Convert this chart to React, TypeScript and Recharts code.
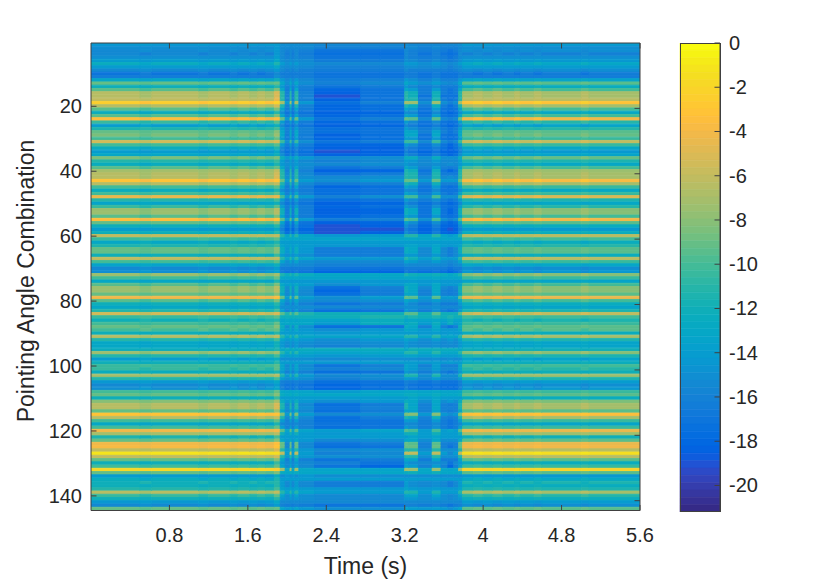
import { BarChart, Bar, Cell, XAxis, YAxis } from "recharts";

/* ── Data (dB) ────────────────────────────────────────────────── */
const rows = Array.from({ length: 144 }, (_, i) => i + 1);

const xTicks = [0.8, 1.6, 2.4, 3.2, 4, 4.8, 5.6];
const yTicks = [20, 40, 60, 80, 100, 120, 140];
const barTicks = [0, -2, -4, -6, -8, -10, -12, -14, -16, -18, -20];

const outer = [
  -14.5, -15, -15.5, -15.5, -15, -14, -12.5, -14, -15.5, -17, -16.5, -13,
  -9, -12, -9.5, -6.5, -6.5, -6, -2.5, -6.5, -9.5, -12.5, -9.5, -3.5,
  -10.5, -14, -11.5, -9, -8.5, -10, -5.5, -10, -12.5, -14, -13, -8.5,
  -11, -12.5, -9.5, -7, -6.5, -6.5, -3.3, -6.5, -10, -12.5, -10, -4.5,
  -11, -13.5, -10.5, -7.5, -7.5, -9.5, -3.5, -9, -12, -14, -12, -6,
  -10.5, -13, -11.5, -9, -9, -12, -6, -10, -13.5, -15.5, -15, -7.5,
  -10, -13, -9.5, -7.5, -7.5, -9, -4, -9.5, -12, -13, -11, -5.5,
  -10.5, -12, -10, -9, -10, -12, -6.5, -11, -13, -13, -12.5, -7.5,
  -11, -14, -12, -10.5, -10.5, -12.5, -7, -11, -14.5, -15.5, -15, -10,
  -9, -12, -8, -6.5, -6.5, -9, -3, -6.5, -10, -13, -10, -4,
  -7, -11.5, -9, -4, -3.8, -6, -1, -6, -9, -12, -10, -1.8,
  -9, -14, -12.5, -12, -12, -11, -6.5, -10.5, -12, -14.5, -15.5, -9,
];

const outerAlt = [
  -14, -15, -15, -16, -15, -14.5, -13, -14, -15, -16.5, -16.5, -13.5,
  -9.5, -12.5, -10, -7, -7, -6.5, -3, -7, -10, -13, -10, -4,
  -11, -13.5, -11, -9.5, -9, -10.5, -6, -10.5, -13, -14.5, -13.5, -9,
  -11.5, -13, -10, -7.5, -7, -7, -3.8, -7, -10.5, -13, -10.5, -5,
  -11.5, -13, -11, -8, -8, -10, -4, -9.5, -12.5, -14.5, -12.5, -6.5,
  -10, -12.5, -11, -9.5, -9.5, -12.5, -6.5, -10.5, -13, -15, -14.5, -8,
  -10.5, -13.5, -10, -8, -8, -9.5, -4.5, -10, -12.5, -13.5, -11.5, -6,
  -10, -11.5, -10.5, -9.5, -9.5, -12.5, -7, -11.5, -13.5, -13.5, -12, -8,
  -11.5, -13.5, -12.5, -10, -11, -12, -7.5, -11.5, -14, -15, -14.5, -10.5,
  -9.5, -12.5, -8.5, -7, -7, -9.5, -3.5, -7, -10.5, -13.5, -10.5, -4.5,
  -7.5, -12, -9.5, -4.5, -4.3, -6.5, -1.5, -6.5, -9.5, -12.5, -10.5, -2.3,
  -9.5, -14.5, -13, -11.5, -12.5, -11.5, -7, -11, -12.5, -14, -15, -9.5,
];

const edge = [
  -14, -14.5, -14.5, -14.5, -14, -13, -11.5, -13, -14.5, -15.5, -15, -12,
  -9, -11, -8.5, -5, -5, -4.5, -2.3, -5.5, -8.5, -11, -8.5, -3.5,
  -9.5, -12, -10, -8, -7.5, -9, -5.5, -9.5, -11.5, -13, -12, -8.5,
  -10.5, -11.5, -9, -6, -5.5, -5, -3.2, -6, -9.5, -11.5, -9.5, -4.5,
  -10, -12, -9.5, -6.5, -6.5, -8.5, -3, -8, -11, -13, -11, -6,
  -9.5, -11.5, -10, -8, -8, -10.5, -6, -9.5, -12, -14, -13.5, -7,
  -9, -11.5, -8.5, -6.5, -6.5, -8, -3.5, -8.5, -11, -12, -10, -5,
  -9.5, -11, -9, -8, -9, -11, -6, -10, -12, -12, -11.5, -7.5,
  -10, -12.5, -11, -9.5, -9.5, -11.5, -6.5, -10, -13, -14, -13.5, -9,
  -8, -10.5, -7, -5, -5, -7.5, -3, -6, -9, -11.5, -9, -4,
  -6.5, -10, -8, -3.5, -3, -5, -1.5, -5.5, -8, -10.5, -9, -2.5,
  -8.5, -12.5, -11.5, -11, -11, -10, -6, -9.5, -11, -13, -14, -9,
];

const fade = [
  -15, -15.5, -15.5, -15.5, -15.5, -15, -14, -15, -15.5, -16.5, -16, -14.5,
  -13, -14.5, -13, -11, -11, -11, -7, -11.5, -13.5, -15, -13.5, -9,
  -14, -15.5, -14, -13, -13, -14, -10.5, -14, -15.5, -16, -15, -12.5,
  -14, -14.5, -13, -11.5, -11, -11, -9, -11.5, -13.5, -15, -13.5, -10,
  -14, -15.5, -14, -12, -12, -13.5, -9.5, -13.5, -15, -16, -15, -11,
  -13, -14, -13.5, -12.5, -12.5, -14, -11, -13.5, -15, -16.5, -16.5, -11.5,
  -13, -14.5, -13, -12, -12, -13, -9, -13, -14.5, -15, -14, -9.5,
  -12, -13.5, -13, -12.5, -13, -14, -11, -13.5, -14.5, -14.5, -13, -11,
  -13.5, -15, -14, -13.5, -13.5, -14.5, -11.5, -14, -16, -16.5, -16, -13,
  -12.5, -14, -12.5, -11.5, -11.5, -13, -8.5, -11.5, -14, -15.5, -14, -9.5,
  -12, -14, -13, -9, -9, -11, -6, -11, -13, -14.5, -13.5, -7,
  -12.5, -15, -14, -14, -14, -13.5, -11, -13.5, -14.5, -15.5, -16, -13.5,
];

const dip = [
  -15.5, -16, -17, -17.5, -17, -16.5, -15.5, -16, -16.5, -17, -17, -16.5,
  -16, -17, -18, -18.5, -19, -18.5, -17.5, -18, -18, -18.5, -18, -17,
  -18, -18.5, -17.5, -17.5, -18.5, -18, -17, -18, -18.5, -19, -18.5, -15.5,
  -16, -15.5, -17, -18.5, -17, -15.5, -15, -16.5, -18, -17.5, -17.5, -16,
  -17.5, -18.5, -18, -18.5, -18.5, -18, -16.5, -18.5, -19, -19, -19, -14.5,
  -13.5, -14, -14.5, -16.5, -16.5, -16.5, -14.5, -15.5, -16, -17, -18, -13,
  -13.5, -14.5, -15, -17.5, -18, -17.5, -15, -15.5, -17, -15.5, -17.5, -12,
  -12, -13.5, -14, -17.5, -15, -14.5, -13.5, -15, -15.5, -16, -12.5, -13.5,
  -14.5, -15.5, -14.5, -17, -16, -17.5, -15.5, -16, -17.5, -18, -18, -14,
  -13, -14, -15, -17.5, -17, -17.5, -15.5, -17.5, -17.5, -17, -17.5, -14,
  -14.5, -14, -15.5, -17, -17.5, -15.5, -16, -15, -17, -16, -17, -13.5,
  -13, -15, -14, -16.5, -16.5, -14.5, -14, -15.5, -15.5, -15.5, -17, -15,
];

const dipLate = [
  -15.5, -16, -17, -17.5, -17, -16.5, -15.5, -16, -16.5, -17, -17, -16,
  -15.5, -16.5, -17, -17, -17, -17, -16, -17.5, -17.5, -18, -17.5, -16,
  -17.5, -18, -17, -17, -17.5, -17.5, -16.5, -18, -18.5, -18.5, -18, -15,
  -15.5, -15, -16.5, -18, -16.5, -15, -14.5, -16, -17.5, -17, -17, -15,
  -17, -18, -17.5, -18, -18, -17.5, -16, -18, -18.5, -19, -18.5, -14,
  -13.5, -14, -14.5, -16.5, -16.5, -16.5, -14.5, -15.5, -16, -17, -18, -13,
  -13.5, -14.5, -14.5, -16, -16.5, -16.5, -14, -15, -16.5, -15.5, -17, -12,
  -11.5, -12.5, -12.5, -17, -14.5, -14, -13, -14.5, -15, -15.5, -12.5, -13,
  -14, -15, -14, -16, -15.5, -17, -15, -15.5, -17, -17.5, -17.5, -13.5,
  -13, -14, -14.5, -16.5, -16, -16.5, -15, -16.5, -17, -17, -17, -13.5,
  -14, -14, -15, -16.5, -17, -15, -15.5, -15, -16.5, -17, -18, -13.5,
  -13, -15, -14, -16.5, -16.5, -14.5, -14, -15.5, -15.5, -15.5, -17, -15,
];

const dipLeft = [
  -15, -15.5, -16, -16.5, -16, -15.5, -15, -15.5, -16, -16.5, -16.5, -15.5,
  -15, -16, -16.5, -16, -16, -16, -14.5, -16, -16.5, -17, -16.5, -14.5,
  -16.5, -17, -16, -16, -16.5, -16.5, -15, -16.5, -17, -17.5, -17, -14.5,
  -15.5, -15, -15.5, -16, -15.5, -15, -14, -15.5, -16.5, -16.5, -16, -14.5,
  -16.5, -17, -16.5, -16.5, -16.5, -16.5, -14.5, -17, -17.5, -18, -17.5, -13.5,
  -13.5, -14, -14, -14.5, -14.5, -15, -13.5, -15, -15.5, -16.5, -17, -12.5,
  -13.5, -14.5, -14, -15, -15.5, -15.5, -14, -15, -16, -15, -16, -11.5,
  -12, -13, -13, -15, -14.5, -14, -13, -14.5, -15, -15.5, -12.5, -13,
  -14, -15, -14, -15.5, -15, -16, -14.5, -15, -16.5, -17, -17, -13.5,
  -13, -14, -14.5, -15.5, -15, -15.5, -14, -15.5, -16, -16, -16, -13.5,
  -14, -14, -14.5, -15.5, -15.5, -14.5, -14, -14.5, -16, -15.5, -15.5, -13,
  -13, -14.5, -14, -15.5, -15.5, -14, -13.5, -15, -15, -15.5, -16.5, -14.5,
];

const notch = [
  -15.5, -16, -16.5, -17, -16.5, -16, -15, -15.5, -16, -17, -17, -16,
  -15, -16.5, -16.5, -16.5, -17, -16.5, -15, -16.5, -17, -17.5, -17, -15.5,
  -17, -17.5, -16.5, -16, -17, -17, -15.5, -17, -17.5, -18, -17.5, -15,
  -15.5, -15.5, -16, -17, -16.5, -15.5, -14.5, -16, -17, -17, -16.5, -15,
  -16.5, -17.5, -17, -17, -17, -17, -15, -17.5, -18, -18.5, -18, -13.5,
  -13.5, -14, -14, -15.5, -15.5, -15.5, -14, -15, -15.5, -16.5, -17.5, -12.5,
  -13.5, -14.5, -14.5, -15.5, -16, -16, -14.5, -15, -16.5, -15.5, -16.5, -12,
  -12, -13.5, -14, -16, -14.5, -14.5, -13.5, -15, -15.5, -15.5, -12.5, -13,
  -14, -15.5, -14.5, -16, -15.5, -16.5, -15, -15.5, -17, -17.5, -17.5, -13.5,
  -13, -14, -15, -16, -16, -16, -14.5, -16, -16.5, -16.5, -16.5, -14,
  -14, -14, -15, -16, -16, -15, -14, -15, -16.5, -15.5, -16, -13,
  -13, -15, -14, -15.5, -15.5, -14.5, -14, -15, -15, -15.5, -16.5, -14.5,
];

const gap = [
  -15.5, -15.5, -16, -16, -16, -15.5, -14.5, -15, -16, -16.5, -16.5, -15,
  -14, -15.5, -14, -12, -12, -11.5, -7.5, -12.5, -14.5, -15.5, -14, -9.5,
  -15.5, -16.5, -15, -13.5, -13, -14.5, -10.5, -15, -16.5, -17, -16, -12.5,
  -14.5, -15, -14, -12, -11.5, -11.5, -9, -12, -14.5, -15.5, -14.5, -10,
  -15, -16.5, -15, -13, -13, -14.5, -10, -15, -16.5, -17, -16.5, -11,
  -13, -14, -13.5, -13, -13, -14.5, -12, -14, -15.5, -16.5, -17, -12,
  -13, -14, -13, -13, -13, -13.5, -9.5, -14, -15.5, -15, -15, -9.5,
  -11.5, -13, -12.5, -13, -13.5, -14, -11, -14, -15, -15, -12, -11,
  -13.5, -15, -14, -14, -14, -15, -11.5, -14.5, -16.5, -17, -17, -13,
  -12.5, -13.5, -13, -13.5, -13, -13.5, -8, -12, -14.5, -15.5, -15, -10,
  -12, -13.5, -13, -9.5, -9, -11, -6, -11, -13.5, -15, -14, -7.5,
  -12, -15, -14, -15, -15, -14, -11.5, -13.5, -14.5, -15.5, -16, -14,
];

// time slices of the picture: where each one ends, and which row profile it shows
const sliceEnds = [
  0.5, 0.62, 1.1, 1.2, 1.42, 1.5, 1.62, 1.7, 1.78, 1.87, 1.93, 1.98, 2.03, 2.05, 2.08, 2.12, 2.15, 2.28,
  2.75, 2.95, 3.2, 3.24, 3.34, 3.48, 3.57, 3.64, 3.7, 3.75, 3.79, 3.9, 4.0, 4.1, 4.2, 4.32, 4.38, 4.52, 4.6, 5.0, 5.08, 5.6,
];
const sliceProfiles = [
  outer, outerAlt, outer, outerAlt, outer, outerAlt, outer, outerAlt, outer, outerAlt, edge, fade, dipLeft, fade, dipLeft, fade, dipLeft, dipLeft,
  dip, dipLate, dipLate, fade, gap, notch, gap, notch, dipLate, notch, fade, outerAlt, outer, outerAlt, outer, outerAlt, outer, outerAlt, outer, outerAlt, outer, outerAlt,
];

// MATLAB parula, 64 steps
const parula = [
  [0.2081, 0.1663, 0.5292], [0.2116, 0.1898, 0.5777], [0.2123, 0.2138, 0.627], [0.2081, 0.2386, 0.6771],
  [0.1959, 0.2645, 0.7279], [0.1707, 0.2919, 0.7792], [0.1253, 0.3242, 0.8303], [0.0591, 0.3598, 0.8683],
  [0.0117, 0.3875, 0.882], [0.006, 0.4086, 0.8828], [0.0165, 0.4266, 0.8786], [0.0329, 0.443, 0.872],
  [0.0498, 0.4586, 0.8641], [0.0629, 0.4737, 0.8554], [0.0723, 0.4887, 0.8467], [0.0779, 0.504, 0.8384],
  [0.0793, 0.52, 0.8312], [0.0749, 0.5375, 0.8263], [0.0641, 0.557, 0.824], [0.0488, 0.5772, 0.8228],
  [0.0343, 0.5966, 0.8199], [0.0265, 0.6137, 0.8135], [0.0239, 0.6287, 0.8038], [0.0231, 0.6418, 0.7913],
  [0.0228, 0.6535, 0.7768], [0.0267, 0.6642, 0.7607], [0.0384, 0.6743, 0.7436], [0.059, 0.6838, 0.7254],
  [0.0843, 0.6928, 0.7062], [0.1133, 0.7015, 0.6859], [0.1453, 0.7098, 0.6646], [0.1801, 0.7177, 0.6424],
  [0.2178, 0.725, 0.6193], [0.2586, 0.7317, 0.5954], [0.3022, 0.7376, 0.5712], [0.3482, 0.7424, 0.5473],
  [0.3953, 0.7459, 0.5244], [0.442, 0.7481, 0.5033], [0.4871, 0.7491, 0.484], [0.53, 0.7491, 0.4661],
  [0.5709, 0.7485, 0.4494], [0.6099, 0.7473, 0.4337], [0.6473, 0.7456, 0.4188], [0.6834, 0.7435, 0.4044],
  [0.7184, 0.7411, 0.3905], [0.7525, 0.7384, 0.3768], [0.7858, 0.7356, 0.3633], [0.8185, 0.7327, 0.3498],
  [0.8507, 0.7299, 0.336], [0.8824, 0.7274, 0.3217], [0.9139, 0.7258, 0.3063], [0.945, 0.7261, 0.2886],
  [0.9739, 0.7314, 0.2666], [0.9938, 0.7455, 0.2403], [0.999, 0.7653, 0.2164], [0.9955, 0.7861, 0.1967],
  [0.988, 0.8066, 0.1794], [0.9789, 0.8271, 0.1633], [0.9697, 0.8481, 0.1475], [0.9626, 0.8705, 0.1309],
  [0.9589, 0.8949, 0.1132], [0.9598, 0.9218, 0.0948], [0.9661, 0.9514, 0.0755], [0.9763, 0.9831, 0.0538],
];

/* ── Helpers ──────────────────────────────────────────────────── */
const CMIN = -21.2;
const INK = "#262626";
const FRAME = "#404040";
const FONT = "'Liberation Sans', Arial, sans-serif";
const TICK_FONT = 20;

const toRgb = (c: number[]) => `rgb(${c.map((v) => Math.round(v * 255)).join(",")})`;
const colorOf = (v: number) => {
  const i = Math.floor(((v - CMIN) / -CMIN) * parula.length);
  return toRgb(parula[Math.max(0, Math.min(parula.length - 1, i))]);
};

const sliceWidths = sliceEnds.map((e, i) => e - (i ? sliceEnds[i - 1] : 0));
const heatData = rows.map((row) => {
  const d: Record<string, number> = { row };
  sliceWidths.forEach((w, i) => (d[`s${i}`] = w));
  return d;
});
// stacked down from 0, so the top of the colormap goes first
const barLevels = [...parula].reverse();
const barData = [Object.fromEntries(barLevels.map((_c, i) => [`c${i}`, CMIN / barLevels.length]))];

function BottomTick({ x, y, payload }: any) {
  return (
    <g>
      <line x1={x} x2={x} y1={y} y2={y - 5.5} stroke={FRAME} />
      <text x={x} y={y + 31.5} textAnchor="middle" fontSize={TICK_FONT} fill={INK} fontFamily={FONT}>{payload.value}</text>
    </g>
  );
}
const TopTick = ({ x, y }: any) => <line x1={x} x2={x} y1={y} y2={y + 5.5} stroke={FRAME} />;
function LeftTick({ x, y, payload }: any) {
  return (
    <g>
      <line x1={x} x2={x + 5.5} y1={y} y2={y} stroke={FRAME} />
      <text x={x - 9} y={y + 7} textAnchor="end" fontSize={TICK_FONT} fill={INK} fontFamily={FONT}>{payload.value}</text>
    </g>
  );
}
const RightTick = ({ x, y }: any) => <line x1={x} x2={x - 5.5} y1={y} y2={y} stroke={FRAME} />;
function BarTick({ x, y, payload }: any) {
  return (
    <g>
      <line x1={x} x2={x - 5.5} y1={y} y2={y} stroke={FRAME} />
      <text x={x + 9} y={y + 7} textAnchor="start" fontSize={TICK_FONT} fill={INK} fontFamily={FONT}>{payload.value}</text>
    </g>
  );
}

const layer = { position: "absolute", left: 0, top: 0 } as const;
const axisProps = { stroke: FRAME, tickLine: false, tickSize: 0, tickMargin: 0, interval: 0, allowDataOverflow: true } as const;

/* ── Chart ────────────────────────────────────────────────────── */
export default function App() {
  return (
    <div style={{ ...layer, width: 830, height: 581, background: "#fff" }}>
      {/* heat map, softened a little and clipped to the plot box */}
      <div style={{ ...layer, width: 830, height: 581, clipPath: "inset(43px 190px 70.5px 91px)" }}>
        <div style={{ filter: "blur(0.7px)" }}>
          <BarChart width={830} height={581} layout="vertical" data={heatData} margin={{ top: 42, right: 189, bottom: 0, left: 0 }}>
            {sliceWidths.map((_w, i) => (
              <Bar key={i} dataKey={`s${i}`} stackId="t" barSize={4} isAnimationActive={false}>
                {rows.map((_r, j) => {
                  const fill = colorOf(sliceProfiles[i][j]);
                  return <Cell key={j} fill={fill} stroke={fill} strokeWidth={0.9} />;
                })}
              </Bar>
            ))}
            <XAxis type="number" domain={[0, 5.6]} height={70.5} tick={false} {...axisProps} stroke="none" />
            <YAxis type="number" dataKey="row" domain={[0.5, 144.5]} width={91} tick={false} {...axisProps} stroke="none" />
            <XAxis xAxisId="top" orientation="top" type="number" domain={[0, 5.6]} height={1} tick={false} {...axisProps} stroke="none" />
            <YAxis yAxisId="right" orientation="right" type="number" domain={[0.5, 144.5]} width={1} tick={false} {...axisProps} stroke="none" />
          </BarChart>
        </div>
      </div>

      {/* frame and ticks on top */}
      <div style={layer}>
        <BarChart width={830} height={581} layout="vertical" data={heatData} margin={{ top: 42, right: 189, bottom: 0, left: 0 }}>
          <XAxis type="number" domain={[0, 5.6]} ticks={xTicks} height={70.5} tick={<BottomTick />} {...axisProps} />
          <YAxis type="number" dataKey="row" domain={[0.5, 144.5]} ticks={yTicks} width={91} tick={<LeftTick />} {...axisProps} />
          <XAxis xAxisId="top" orientation="top" type="number" domain={[0, 5.6]} ticks={xTicks} height={1} tick={<TopTick />} {...axisProps} />
          <YAxis yAxisId="right" orientation="right" type="number" domain={[0.5, 144.5]} ticks={yTicks} width={1} tick={<RightTick />} {...axisProps} />
        </BarChart>
      </div>

      {/* colour bar */}
      <div style={layer}>
        <BarChart width={830} height={581} data={barData} margin={{ top: 43, right: 109, bottom: 69, left: 680 }} barCategoryGap={0}>
          {barLevels.map((c, i) => (
            <Bar key={i} dataKey={`c${i}`} stackId="c" fill={toRgb(c)} stroke={toRgb(c)} strokeWidth={0.6} isAnimationActive={false} />
          ))}
          <XAxis hide />
          <YAxis orientation="right" type="number" domain={[CMIN, 0]} ticks={barTicks} width={1} tick={<BarTick />} {...axisProps} />
        </BarChart>
        <div style={{ position: "absolute", left: 680, top: 42.5, width: 40.5, height: 469.5, border: `1px solid ${FRAME}`, boxSizing: "border-box" }} />
      </div>

      <div style={{ position: "absolute", left: 0, top: 566, width: 731, textAlign: "center", transform: "translateY(-50%)", fontFamily: FONT, fontSize: 23, color: INK }}>Time (s)</div>
      <div style={{ position: "absolute", left: 26, top: 281, transform: "translate(-50%,-50%) rotate(-90deg)", whiteSpace: "nowrap", fontFamily: FONT, fontSize: 23, color: INK }}>Pointing Angle Combination</div>
    </div>
  );
}
